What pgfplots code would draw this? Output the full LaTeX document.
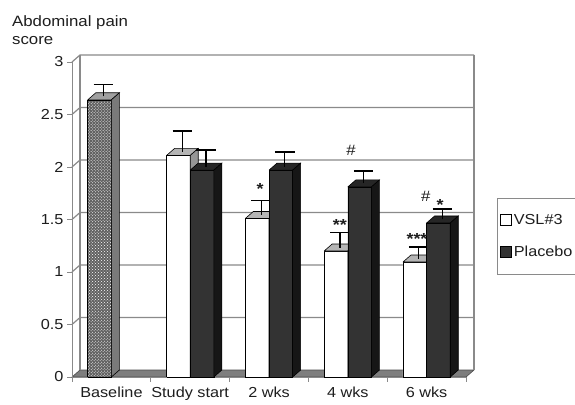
\documentclass[border=0pt]{standalone}
\usepackage{pgfplots}
\pgfplotsset{compat=1.18}
\usetikzlibrary{patterns}
\usepackage{fontspec}
\setmainfont[FakeStretch=1.12]{Liberation Sans}
\definecolor{gridc}{HTML}{8A8A8A}
\definecolor{floorc}{HTML}{7E7E7E}
\definecolor{txt}{HTML}{1E1E1E}
\definecolor{vtop}{HTML}{B4B4B4}
\definecolor{vside}{HTML}{969696}
\definecolor{pfront}{HTML}{333333}
\definecolor{ptop}{HTML}{262626}
\definecolor{pside}{HTML}{161616}
\definecolor{btop}{HTML}{A0A0A0}
\definecolor{bside}{HTML}{7A7A7A}
\newcommand\ddx{0.1015}
\newcommand\ddy{0.0667}
% #1 x centre, #2 value, #3 error, #4 front style, #5 top colour, #6 side colour
\newcommand{\bartd}[6]{%
  \pgfmathsetmacro\xa{#1-0.15}%
  \pgfmathsetmacro\xb{#1+0.15}%
  \pgfmathsetmacro\xc{#1-0.15+\ddx}%
  \pgfmathsetmacro\xd{#1+0.15+\ddx}%
  \pgfmathsetmacro\vt{#2+\ddy}%
  \pgfmathsetmacro\xm{#1+0.5*\ddx}%
  \pgfmathsetmacro\vm{#2+0.5*\ddy}%
  \pgfmathsetmacro\ve{#2+0.5*\ddy+#3}%
  \pgfmathsetmacro\ca{#1+0.5*\ddx-0.125}%
  \pgfmathsetmacro\cb{#1+0.5*\ddx+0.125}%
  \addplot[forget plot, #4, line width=0.6bp] coordinates {(\xa,0) (\xa,#2) (\xb,#2) (\xb,0) (\xa,0)};
  \addplot[forget plot, fill=#5, draw=black, line width=0.6bp] coordinates {(\xa,#2) (\xc,\vt) (\xd,\vt) (\xb,#2) (\xa,#2)};
  \addplot[forget plot, fill=#6, draw=black, line width=0.6bp] coordinates {(\xb,0) (\xd,\ddy) (\xd,\vt) (\xb,#2) (\xb,0)};
  \addplot[forget plot, black, line width=1.3bp] coordinates {(\xm,\vm) (\xm,\ve)};
  \addplot[forget plot, black, line width=1.3bp] coordinates {(\ca,\ve) (\cb,\ve)};
}
\begin{document}
\begin{tikzpicture}[x=1bp,y=1bp]
\useasboundingbox (0,0) rectangle (575,404);
\fill[white] (0,0) rectangle (575,404);
\node[anchor=base west, text=txt, font=\fontsize{15bp}{18bp}\selectfont, inner sep=0] at (12,378) {Abdominal pain};
\node[anchor=base west, text=txt, font=\fontsize{15bp}{18bp}\selectfont, inner sep=0] at (12,360) {score};
\begin{axis}[
  at={(72bp,27bp)}, anchor=south west,
  scale only axis, width=394bp, height=315bp,
  xmin=-0.5, xmax=4.5, ymin=0, ymax=3,
  clip=false,
  axis x line*=bottom, axis y line*=left,
  axis line style={draw=none},
  xtick={0,1,2,3,4},
  xticklabels={Baseline, Study start, 2 wks, 4 wks, 6 wks},
  xtick style={draw=none},
  ytick={0,0.5,1,1.5,2,2.5,3},
  yticklabels={0,0.5,1,1.5,2,2.5,3},
  ytick style={gridc, line width=1bp},
  tick align=outside, major tick length=5bp,
  /pgf/number format/assume math mode=true,
  ticklabel style={text=txt, font=\fontsize{14.5bp}{17bp}\selectfont},
  xticklabel style={yshift=-1bp},
  legend style={at={(1.0787,0.568)}, anchor=north west, draw=gridc, fill=white,
    font=\fontsize{14.5bp}{17bp}\selectfont, text=txt, row sep=16bp,
    inner xsep=3bp, inner ysep=14bp},
  legend cell align=left,
]
% floor
\fill[floorc, draw=gray!60!black, line width=0.6bp] (axis cs:-0.5,0) -- (axis cs:4.5,0) -- ([xshift=8bp,yshift=7bp]axis cs:4.5,0) -- ([xshift=8bp,yshift=7bp]axis cs:-0.5,0) -- cycle;
% front axis lines
\draw[gridc, line width=1bp] (axis cs:-0.5,3) -- (axis cs:-0.5,0) -- (axis cs:4.5,0);
% back wall grid lines and side-wall links
\pgfplotsinvokeforeach{0.5,1,1.5,2,2.5,3}{
  \draw[gridc, line width=1.2bp] (axis cs:-0.5,#1) -- ([xshift=8bp,yshift=7bp]axis cs:-0.5,#1) -- ([xshift=8bp,yshift=7bp]axis cs:4.5,#1);
}
\draw[gridc, line width=1.2bp] ([xshift=8bp,yshift=7bp]axis cs:-0.5,0) -- ([xshift=8bp,yshift=7bp]axis cs:-0.5,3);
\draw[gridc, line width=1.2bp] ([xshift=8bp,yshift=7bp]axis cs:4.5,0) -- ([xshift=8bp,yshift=7bp]axis cs:4.5,3);
% category boundary ticks
\pgfplotsinvokeforeach{-0.5,0.5,1.5,2.5,3.5,4.5}{
  \draw[gridc, line width=1bp] (axis cs:#1,0) -- ([yshift=-5bp]axis cs:#1,0);
}
% Baseline
\bartd{-0.15}{2.64}{0.11}{fill=black!62, postaction={pattern=crosshatch dots, pattern color=white}, draw=black}{btop}{bside}
% VSL#3
\bartd{0.85}{2.11}{0.20}{fill=white, draw=black}{vtop}{vside}
\bartd{1.85}{1.51}{0.14}{fill=white, draw=black}{vtop}{vside}
\bartd{2.85}{1.20}{0.14}{fill=white, draw=black}{vtop}{vside}
\bartd{3.85}{1.095}{0.11}{fill=white, draw=black}{vtop}{vside}
% Placebo
\bartd{1.15}{1.97}{0.16}{fill=pfront, draw=black}{ptop}{pside}
\bartd{2.15}{1.97}{0.14}{fill=pfront, draw=black}{ptop}{pside}
\bartd{3.15}{1.81}{0.12}{fill=pfront, draw=black}{ptop}{pside}
\bartd{4.15}{1.467}{0.10}{fill=pfront, draw=black}{ptop}{pside}
% significance marks
\begin{scope}[every node/.style={text=txt, font=\fontsize{16bp}{18bp}\selectfont\bfseries, inner sep=0, anchor=base}]
\node at (axis cs:1.886,1.735) {*};
\node at (axis cs:2.90,1.40) {**};
\node at (axis cs:3.878,1.265) {***};
\node at (axis cs:4.17,1.59) {*};
\end{scope}
\begin{scope}[every node/.style={text=txt, font=\fontsize{15bp}{18bp}\selectfont, inner sep=0, anchor=base}]
\node at (axis cs:3.04,2.114) {\#};
\node at (axis cs:3.99,1.676) {\#};
\end{scope}
\addlegendimage{legend image code/.code={\draw[fill=white, draw=black, line width=0.6bp] (0bp,-5.5bp) rectangle (11bp,5.5bp);}}
\addlegendentry{VSL\#3}
\addlegendimage{legend image code/.code={\draw[fill=pfront, draw=black, line width=0.6bp] (0bp,-5.5bp) rectangle (11bp,5.5bp);}}
\addlegendentry{Placebo}
\end{axis}
\end{tikzpicture}
\end{document}
